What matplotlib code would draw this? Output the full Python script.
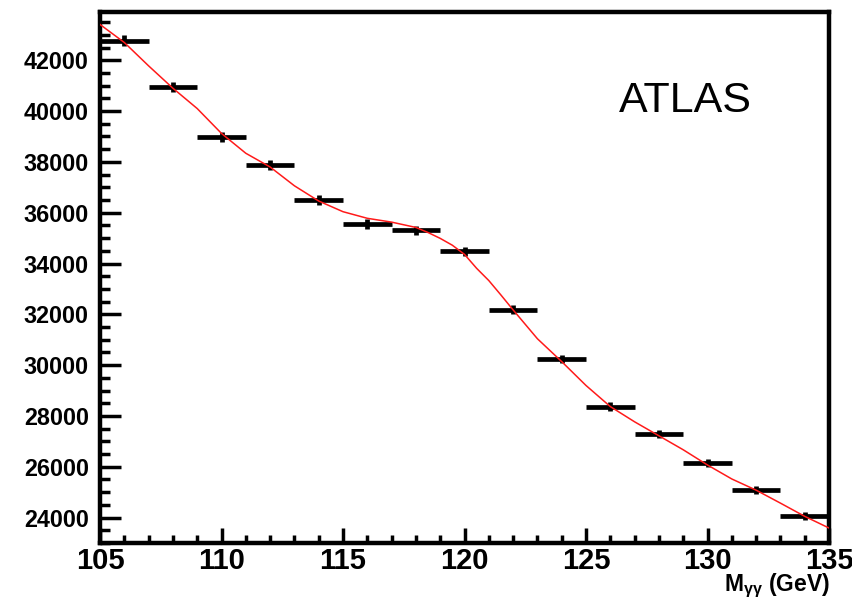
import numpy as np
import matplotlib
matplotlib.use("Agg")
import matplotlib.pyplot as plt
from matplotlib.ticker import MultipleLocator

plt.rcParams['font.family'] = ['Liberation Sans', 'DejaVu Sans']
plt.rcParams['mathtext.fontset'] = 'custom'
plt.rcParams['mathtext.rm'] = 'Liberation Sans:bold'
plt.rcParams['mathtext.it'] = 'Liberation Sans:bold'
plt.rcParams['mathtext.bf'] = 'Liberation Sans:bold'

# Diphoton invariant mass histogram (2 GeV bins)
bin_centers = [106, 108, 110, 112, 114, 116, 118, 120, 122, 124, 126, 128, 130, 132, 134]
bin_half_width = 1.0
counts = [42770, 40960, 38970, 37870, 36510, 35560, 35300, 34480,
          32190, 30240, 28370, 27290, 26150, 25100, 24050]
count_errors = [207, 202, 197, 195, 191, 189, 188, 186,
                179, 174, 168, 165, 162, 158, 155]

# Fitted background + signal curve
fit_x = [105.0, 106.0, 107.0, 108.0, 109.0, 110.0, 111.0, 112.0, 113.0, 114.0,
         115.0, 116.0, 117.0, 118.0, 118.5, 119.0, 119.5, 120.0, 120.5, 121.0,
         121.5, 122.0, 123.0, 124.0, 125.0, 126.0, 127.0, 128.0, 129.0, 130.0,
         131.0, 132.0, 133.0, 134.0, 135.0]
fit_y = [43410, 42700, 41780, 40900, 40100, 39120, 38340, 37800, 37060, 36460,
         36040, 35780, 35630, 35420, 35220, 34990, 34720, 34360, 33810, 33330,
         32760, 32175, 31040, 30140, 29200, 28370, 27770, 27220, 26670, 26070,
         25520, 25080, 24570, 24050, 23590]

fig = plt.figure(figsize=(8.52, 6.03), dpi=100)
ax = fig.add_axes([100 / 852, 1 - 543 / 603, 729 / 852, 531 / 603])

ax.errorbar(bin_centers, counts, xerr=bin_half_width, yerr=count_errors,
            fmt='none', ecolor='black', elinewidth=3.4, capsize=0, zorder=2)
ax.plot(fit_x, fit_y, color='#ff1a1a', lw=1.1, zorder=3)

ax.set_xlim(105, 135)
ax.set_ylim(23000, 43900)

ax.xaxis.set_major_locator(MultipleLocator(5))
ax.xaxis.set_minor_locator(MultipleLocator(1))
ax.yaxis.set_major_locator(MultipleLocator(2000))
ax.yaxis.set_minor_locator(MultipleLocator(500))

for side in ax.spines.values():
    side.set_linewidth(3.2)

ax.tick_params(axis='x', which='major', direction='in', length=11, width=2.5,
               pad=3, labelsize=21, top=False)
ax.tick_params(axis='x', which='minor', direction='in', length=6, width=2.5, top=False)
ax.tick_params(axis='y', which='major', direction='in', length=15, width=2.5,
               pad=8, labelsize=16.8, right=False)
ax.tick_params(axis='y', which='minor', direction='in', length=7.2, width=2.5, right=False)
for lab in ax.get_xticklabels() + ax.get_yticklabels():
    lab.set_fontweight('bold')

fig.text(830 / 852, 1 - 591 / 603, r'M$_{\gamma\gamma}$ (GeV)', ha='right', va='baseline',
         fontsize=16.5, fontweight='bold')
fig.text(619 / 852, 1 - 111.5 / 603, 'ATLAS', ha='left', va='baseline', fontsize=31)

fig.savefig('out.png', dpi=100)
